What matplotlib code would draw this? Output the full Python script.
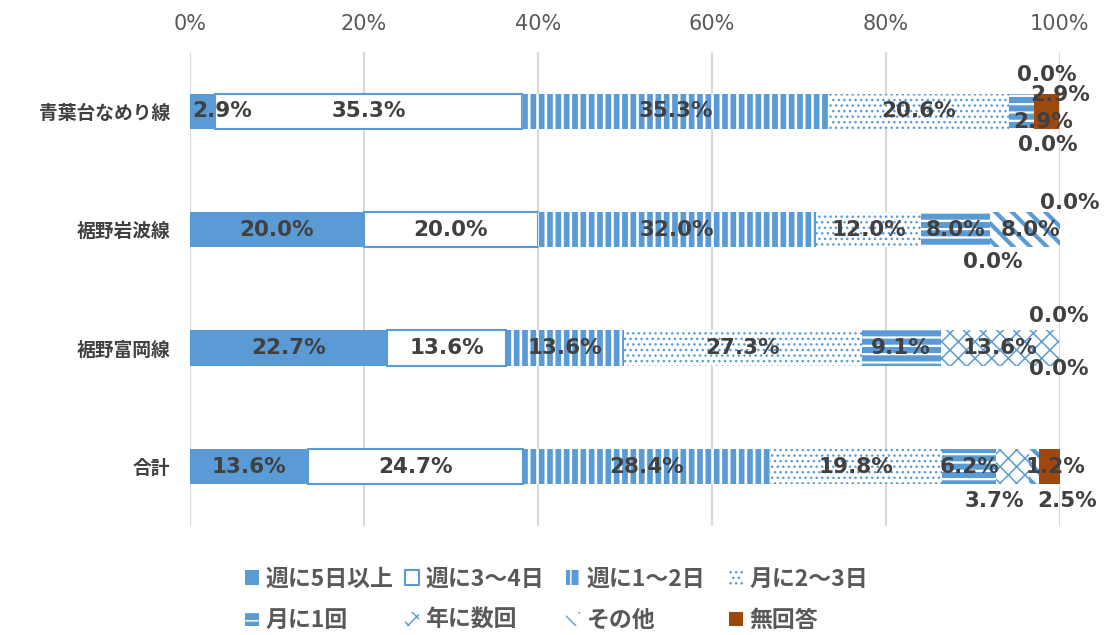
import matplotlib.pyplot as plt
import matplotlib.patches as mpatches
import numpy as np

plt.rcParams['font.family'] = ['Noto Sans CJK JP', 'DejaVu Sans']

# data
categories = ['青葉台なめり線', '裾野岩波線', '裾野富岡線', '合計']
series = ['週に5日以上', '週に3～4日', '週に1～2日', '月に2～3日',
          '月に1回', '年に数回', 'その他', '無回答']
week5 = [2.9, 20.0, 22.7, 13.6]
week34 = [35.3, 20.0, 13.6, 24.7]
week12 = [35.3, 32.0, 13.6, 28.4]
month23 = [20.6, 12.0, 27.3, 19.8]
month1 = [2.9, 8.0, 9.1, 6.2]
year = [0.0, 0.0, 13.6, 3.7]
other = [0.0, 8.0, 0.0, 1.2]
noans = [2.9, 0.0, 0.0, 2.5]
values = [week5, week34, week12, month23, month1, year, other, noans]

blue = '#5B9BD5'
brown = '#9E480E'
# face, edge, hatch, hatch lw, edge lw
styles = [
    (blue, blue, None, 1.0, 0.0),
    ('white', blue, None, 1.0, 1.5),
    (blue, 'white', '||', 1.9, 0.0),
    ('white', blue, '...', 1.0, 0.0),
    (blue, 'white', '--', 1.6, 0.0),
    ('white', blue, 'xx', 1.1, 0.0),
    ('white', blue, '\\\\', 3.0, 0.0),
    (brown, brown, None, 1.0, 0.0),
]

# manual label nudges in pixels (dx right, dy down): (series, row)
nudge = {
    (0, 0): (20, 0),
    (4, 0): (22, 11), (5, 0): (13, -36), (6, 0): (14, 34), (7, 0): (14, -16),
    (5, 1): (2, 32), (6, 1): (5, 0), (7, 1): (10, -27),
    (6, 2): (0, -32), (7, 2): (0, 21),
    (5, 3): (-18, 34), (6, 3): (22, 0), (7, 3): (17, 34),
}

fig, ax = plt.subplots(figsize=(11.11, 6.35), dpi=100)
fig.subplots_adjust(left=0.171, right=0.954, top=0.918, bottom=0.172)

y = np.arange(len(categories))
left = np.zeros(len(categories))
handles = []
for i, vals in enumerate(values):
    face, edge, hatch, hlw, elw = styles[i]
    with plt.rc_context({'hatch.linewidth': hlw}):
        ax.barh(y, vals, 0.30, left=left, color=face, edgecolor=edge,
                hatch=hatch, linewidth=elw, zorder=2)
        handles.append(mpatches.Patch(facecolor=face, edgecolor=edge,
                                      hatch=hatch, linewidth=elw))
    for j, v in enumerate(vals):
        dx, dy = nudge.get((i, j), (0, 0))
        ax.annotate('%.1f%%' % v, xy=(left[j] + v / 2, y[j]),
                    xytext=(dx, -dy), textcoords='offset pixels',
                    ha='center', va='center', fontsize=15.5,
                    family='DejaVu Sans', fontweight='bold',
                    color='#404040', zorder=5)
    left = left + np.array(vals)

ax.set_xlim(0, 100)
ax.set_ylim(3.5, -0.5)
ax.set_xticks(range(0, 101, 20))
ax.set_xticklabels(['%d%%' % t for t in range(0, 101, 20)],
                   family='DejaVu Sans', fontsize=15, color='#595959')
ax.xaxis.tick_top()
ax.set_yticks(y)
ax.set_yticklabels(categories, fontsize=13.5, fontweight='bold', color='#404040')
ax.tick_params(axis='x', length=0, pad=13)
ax.tick_params(axis='y', length=0, pad=14)
ax.grid(axis='x', color='#D9D9D9', linewidth=1.5, zorder=0)
ax.set_axisbelow(True)
for s in ax.spines.values():
    s.set_visible(False)

# legend: two rows of four, equal column widths (one small legend per column)
col_x = [0.2205, 0.3645, 0.5095, 0.656]
for c in range(4):
    leg = fig.legend([handles[c], handles[c + 4]], [series[c], series[c + 4]],
                     loc='upper left', bbox_to_anchor=(col_x[c], 0.106),
                     frameon=False, handlelength=0.6, handleheight=0.6,
                     handletextpad=0.3, labelspacing=0.8,
                     borderpad=0, borderaxespad=0,
                     prop={'weight': 'bold', 'size': 16.5})
    for t in leg.get_texts():
        t.set_color('#595959')

fig.savefig('out.png', dpi=100)
